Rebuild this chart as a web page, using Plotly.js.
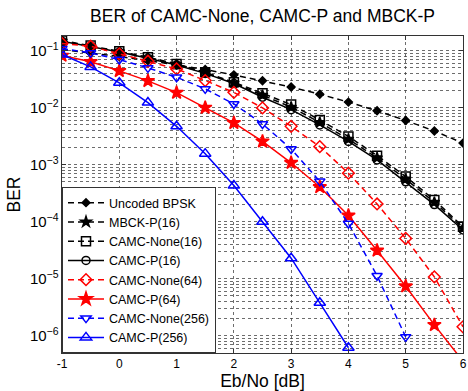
<!DOCTYPE html>
<html>
<head>
<meta charset="utf-8">
<script src="https://cdn.plot.ly/plotly-3.0.1.min.js"></script>
<style>html,body{margin:0;padding:0;background:#fff;}#chart{width:468px;height:391px;}</style>
</head>
<body>
<div id="chart"></div>
<script>
// Eb/No values (dB)
const ebnoFull = [-1, -0.5, 0, 0.5, 1, 1.5, 2, 2.5, 3, 3.5, 4, 4.5, 5, 5.5, 6];
const ebno256P = [-1, -0.5, 0, 0.5, 1, 1.5, 2, 2.5, 3, 3.5, 4];
const ebno256N = [-1, -0.5, 0, 0.5, 1, 1.5, 2, 2.5, 3, 3.5, 4, 4.5, 5];

// BER values
const berUncoded = [0.104, 0.0909, 0.0786, 0.0671, 0.0563, 0.0464, 0.0375, 0.0296, 0.0229, 0.0172, 0.0125, 0.0088, 0.00595, 0.00389, 0.00239];
const berMBCK16 = [0.147, 0.120, 0.095, 0.075, 0.057, 0.0405, 0.027, 0.0165, 0.0102, 0.0055, 0.0028, 0.00132, 0.00056, 0.00022, 0.000077];
const berNone16 = [0.150, 0.122, 0.097, 0.0763, 0.0584, 0.0416, 0.0278, 0.0178, 0.0113, 0.00608, 0.00313, 0.00144, 0.00062, 0.00024, 0.000082];
const berP16 = [0.145, 0.118, 0.094, 0.073, 0.056, 0.0398, 0.0265, 0.0152, 0.0092, 0.00497, 0.00256, 0.00121, 0.00050, 0.00020, 0.000072];
const berNone64 = [0.133, 0.119, 0.0875, 0.0649, 0.0477, 0.0298, 0.0185, 0.00989, 0.0047, 0.00207, 0.00071, 0.000205, 0.000051, 0.0000108, 0.00000144];
const berP64 = [0.0817, 0.0634, 0.044, 0.0294, 0.0183, 0.0100, 0.0054, 0.00256, 0.00108, 0.000406, 0.000129, 0.0000314, 0.0000074, 0.00000156, 0.00000036];
const berNone256 = [0.108, 0.091, 0.0695, 0.0497, 0.034, 0.0213, 0.0116, 0.00518, 0.00188, 0.00051, 0.000093, 0.0000113, 0.00000096];
const berP256 = [0.085, 0.0517, 0.0272, 0.01225, 0.0047, 0.00156, 0.00043, 0.0001, 0.000023, 0.0000038, 0.00000062];

const xTicks = [-1, 0, 1, 2, 3, 4, 5, 6];

const DASH = '6px,4px';
function tr(name, x, y, color, dash, symbol, size) {
  return {
    x: x, y: y, name: name, type: 'scatter', mode: 'lines+markers',
    line: {color: color, width: 1.5, dash: dash},
    marker: {symbol: symbol, size: size, color: color,
             line: {color: color, width: 1.5}}
  };
}

const data = [
  tr('Uncoded BPSK', ebnoFull, berUncoded, '#000', DASH, 'diamond', 6),
  tr('MBCK-P(16)', ebnoFull, berMBCK16, '#000', DASH, 'star', 8),
  tr('CAMC-None(16)', ebnoFull, berNone16, '#000', DASH, 'square-open', 9),
  tr('CAMC-P(16)', ebnoFull, berP16, '#000', 'solid', 'circle-open', 8),
  tr('CAMC-None(64)', ebnoFull, berNone64, '#ff0000', DASH, 'diamond-open', 9),
  tr('CAMC-P(64)', ebnoFull, berP64, '#ff0000', 'solid', 'star', 10),
  tr('CAMC-None(256)', ebno256N, berNone256, '#0000ff', DASH, 'triangle-down-open', 9),
  tr('CAMC-P(256)', ebno256P, berP256, '#0000ff', 'solid', 'triangle-up-open', 10)
];

const gridc = 'rgba(60,60,60,0.75)';
const layout = {
  width: 468, height: 391,
  margin: {l: 62, r: 5, t: 35.5, b: 38.3},
  paper_bgcolor: '#fff', plot_bgcolor: '#fff',
  font: {family: '"Liberation Sans", Arial, sans-serif', color: '#000', size: 12},
  showlegend: true,
  title: {text: 'BER of CAMC-None, CAMC-P and MBCK-P', font: {size: 17.5, color: '#000'},
          x: 0.5, xref: 'paper', y: 1 - 16/391, yref: 'container', yanchor: 'middle'},
  xaxis: {
    range: [-1, 6], tickvals: xTicks, ticktext: xTicks.map(String),
    showgrid: true, gridcolor: gridc, griddash: 'dot', gridwidth: 1,
    zeroline: false, showline: true, mirror: 'ticks', linecolor: '#333', linewidth: 1,
    ticks: 'inside', ticklen: 4, tickcolor: '#333',
    tickfont: {size: 12},
    title: {text: 'Eb/No [dB]', font: {size: 17.5}, standoff: 6}
  },
  yaxis: {
    type: 'log', range: [-6.30, -0.745],
    dtick: 1, exponentformat: 'power', showexponent: 'all',
    showgrid: true, gridcolor: gridc, griddash: 'dot', gridwidth: 1,
    minor: {showgrid: true, gridcolor: gridc, griddash: 'dot', gridwidth: 1, ticks: ''},
    zeroline: false, showline: true, mirror: 'ticks', linecolor: '#333', linewidth: 1,
    ticks: 'inside', ticklen: 4, tickcolor: '#333',
    tickfont: {size: 12},
    title: {text: 'BER', font: {size: 17.5}, standoff: 4}
  },
  legend: {
    x: 0, y: 0, xanchor: 'left', yanchor: 'bottom',
    bgcolor: '#fff', bordercolor: '#333', borderwidth: 1,
    font: {size: 12.5}, itemwidth: 36, tracegroupgap: 0
  }
};

Plotly.newPlot('chart', data, layout, {staticPlot: true, displayModeBar: false});
</script>
</body>
</html>
